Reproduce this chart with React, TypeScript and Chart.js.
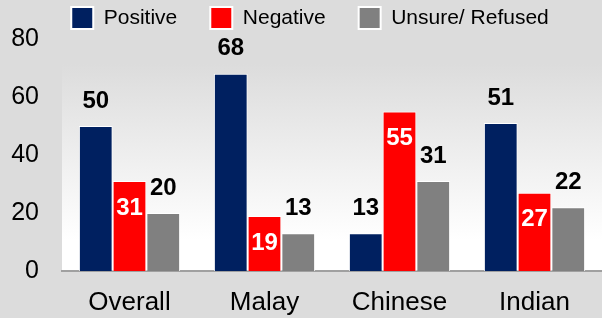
import React, { useEffect, useRef } from "react";
import { Chart, registerables } from "chart.js";

Chart.register(...registerables);

const categories = ["Overall", "Malay", "Chinese", "Indian"];
const seriesNames = ["Positive", "Negative", "Unsure/ Refused"];
const positive = [50, 68, 13, 51];
const negative = [31, 19, 55, 27];
const unsure = [20, 13, 31, 22];
const yTicks = [0, 20, 40, 60, 80];

const FONT = "'Liberation Sans', Arial, Helvetica, sans-serif";
const COLORS = ["#002060", "#ff0000", "#808080"];
const BG = "#dcdcdc";

const bgPlugin = {
  id: "bgPlugin",
  beforeDraw(chart: any) {
    const { ctx, chartArea, width, height } = chart;
    ctx.save();
    ctx.fillStyle = BG;
    ctx.fillRect(0, 0, width, height);
    const top = chartArea.top + 25;
    const g = ctx.createLinearGradient(0, top, 0, chartArea.bottom);
    g.addColorStop(0, "#dcdcdc");
    g.addColorStop(0.85, "#ffffff");
    g.addColorStop(1, "#ffffff");
    ctx.fillStyle = g;
    ctx.fillRect(chartArea.left, top, chartArea.right - chartArea.left, chartArea.bottom - top);
    ctx.restore();
  },
};

const labelPlugin = {
  id: "labelPlugin",
  afterDatasetsDraw(chart: any) {
    const { ctx } = chart;
    ctx.save();
    ctx.font = `bold 24px ${FONT}`;
    ctx.textAlign = "center";
    ctx.textBaseline = "middle";
    chart.data.datasets.forEach((ds: any, di: number) => {
      const meta = chart.getDatasetMeta(di);
      meta.data.forEach((bar: any, i: number) => {
        const v = ds.data[i];
        if (di === 1) {
          ctx.fillStyle = "#ffffff";
          ctx.fillText(String(v), bar.x, bar.y + 27);
        } else {
          ctx.fillStyle = "#000000";
          ctx.fillText(String(v), bar.x, bar.y - 25);
        }
      });
    });
    ctx.restore();
  },
};

export default function App() {
  const ref = useRef<HTMLCanvasElement | null>(null);
  useEffect(() => {
    if (!ref.current) return;
    const series = [positive, negative, unsure];
    const chart = new Chart(ref.current, {
      type: "bar",
      data: {
        labels: categories,
        datasets: series.map((d, i) => ({
          label: seriesNames[i],
          data: d,
          backgroundColor: COLORS[i],
          borderColor: "#ffffff",
          borderWidth: 1,
          categoryPercentage: 0.75,
          barPercentage: 1,
          yAxisID: "y",
        })),
      },
      options: {
        responsive: false,
        animation: false,
        events: [],
        layout: { padding: { top: -26, left: 0, right: -18, bottom: 0 } },
        plugins: {
          tooltip: { enabled: false },
          legend: {
            position: "top",
            align: "center",
            labels: {
              boxWidth: 22,
              boxHeight: 22,
              padding: 33,
              color: "#000000",
              font: { size: 21, family: FONT },
              generateLabels(c: any) {
                const items = Chart.defaults.plugins.legend.labels.generateLabels(c);
                return items.map((it: any) => ({ ...it, lineWidth: 2, strokeStyle: "#ffffff" }));
              },
            },
          },
        },
        scales: {
          x: {
            grid: { display: false, drawTicks: false },
            border: { display: true, color: "#a0a0a0", width: 2 },
            ticks: { color: "#000000", font: { size: 26, family: FONT }, padding: 16 },
            afterFit(scale: any) {
              scale.height = 47;
            },
          },
          y: {
            min: 0,
            max: 80,
            grid: { display: false, drawTicks: false },
            border: { display: false },
            ticks: { stepSize: 20, color: "#000000", font: { size: 25, family: FONT }, padding: 23 },
            afterBuildTicks(scale: any) {
              scale.ticks = yTicks.map((v) => ({ value: v }));
            },
            afterFit(scale: any) {
              scale.width = 62;
            },
          },
          yRight: {
            type: "linear",
            position: "right",
            display: true,
            grid: { display: false, drawTicks: false },
            border: { display: false },
            ticks: { display: false },
            afterFit(scale: any) {
              scale.width = 18;
            },
          },
        },
      },
      plugins: [bgPlugin, labelPlugin],
    });
    return () => chart.destroy();
  }, []);
  return (
    <div style={{ position: "fixed", left: 0, top: 0, width: 602, height: 318 }}>
      <canvas ref={ref} width={602} height={318} style={{ display: "block" }} />
    </div>
  );
}
